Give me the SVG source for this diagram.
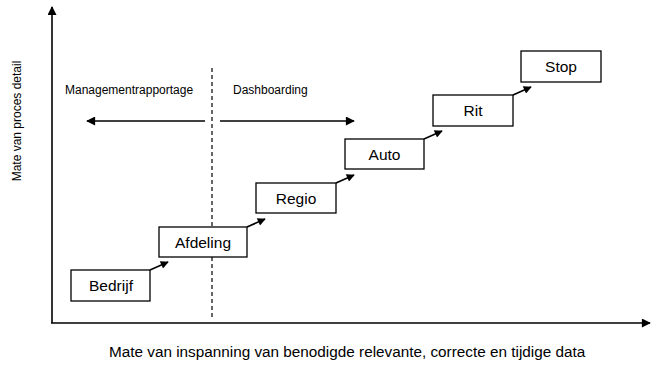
<svg xmlns="http://www.w3.org/2000/svg" width="651" height="367" viewBox="0 0 651 367">
<style>
text{font-family:"Liberation Sans",Arial,sans-serif;fill:#000}
.lbl{font-size:12px}
.box rect{fill:#fff;stroke:#000;stroke-width:1.3}
.box text{font-size:15.5px;text-anchor:middle}
.ln{stroke:#000;stroke-width:1.6;fill:none}
</style>
<defs>
<marker id="ah" viewBox="0 0 10 10" refX="9" refY="5" markerWidth="9" markerHeight="8" markerUnits="userSpaceOnUse" orient="auto"><path d="M0,0L10,5L0,10z" fill="#000"/></marker>
<marker id="ahL" viewBox="0 0 10 10" refX="9" refY="5" markerWidth="10" markerHeight="9" markerUnits="userSpaceOnUse" orient="auto"><path d="M0,0L10,5L0,10z" fill="#000"/></marker>
</defs>
<g id="axes">
<line class="ln" x1="52" y1="323" x2="52" y2="7" marker-end="url(#ahL)"/>
<line class="ln" x1="51" y1="323" x2="650" y2="323" marker-end="url(#ahL)"/>
<line x1="212" y1="68" x2="212" y2="319" stroke="#000" stroke-width="1.2" stroke-dasharray="4,3"/>
</g>
<g id="connectors">
<line class="ln" x1="205" y1="121" x2="87" y2="121" marker-end="url(#ahL)"/>
<line class="ln" x1="220" y1="121" x2="354" y2="121" marker-end="url(#ahL)"/>
<line class="ln" x1="150" y1="270" x2="168" y2="262" marker-end="url(#ah)"/>
<line class="ln" x1="247" y1="227" x2="265" y2="219" marker-end="url(#ah)"/>
<line class="ln" x1="336" y1="183" x2="354" y2="175" marker-end="url(#ah)"/>
<line class="ln" x1="424" y1="139" x2="442" y2="131" marker-end="url(#ah)"/>
<line class="ln" x1="513" y1="95" x2="531" y2="87" marker-end="url(#ah)"/>
</g>
<g id="bedrijf" class="box"><rect x="71" y="270" width="79" height="31"/><text x="111" y="291">Bedrijf</text></g>
<g id="afdeling" class="box"><rect x="159" y="227" width="88" height="30"/><text x="203" y="247.5">Afdeling</text></g>
<g id="regio" class="box"><rect x="256" y="183" width="80" height="30"/><text x="296" y="203.5">Regio</text></g>
<g id="auto" class="box"><rect x="345" y="139" width="79" height="30"/><text x="384.5" y="159.5">Auto</text></g>
<g id="rit" class="box"><rect x="433" y="95" width="80" height="31"/><text x="473" y="116">Rit</text></g>
<g id="stop" class="box"><rect x="521" y="51" width="80" height="31"/><text x="561" y="72">Stop</text></g>
<g id="labels">
<text class="lbl" x="65" y="94">Managementrapportage</text>
<text class="lbl" x="233" y="94">Dashboarding</text>
<text class="lbl" transform="translate(21,121) rotate(-90)" text-anchor="middle">Mate van proces detail</text>
<text x="109" y="357" font-size="15.3">Mate van inspanning van benodigde relevante, correcte en tijdige data</text>
</g>
</svg>
